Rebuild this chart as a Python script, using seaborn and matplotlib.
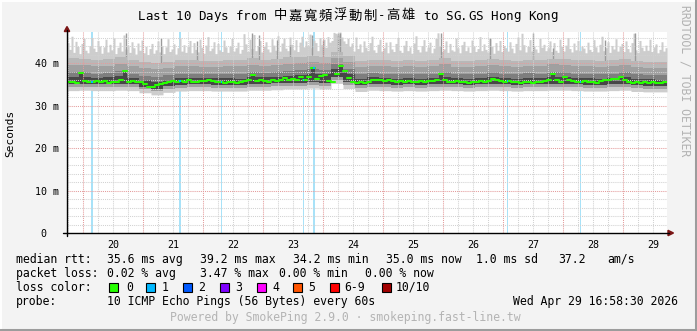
import numpy as np
import pandas as pd
import matplotlib
matplotlib.use("Agg")
import matplotlib.pyplot as plt
import seaborn as sns
from matplotlib.patches import Rectangle, Polygon
from matplotlib.lines import Line2D

# ---------------- data ----------------
title = "Last 10 Days from 中嘉寬頻浮動制-高雄 to SG.GS Hong Kong"
# time axis in days relative to Apr 20 00:00
start_day = -16 / 60          # Apr 19 17:36
end_day = 584 / 60            # Apr 29 ~17:00
bin_days = 4 / 60             # 96 minute bins (150 bins)
coarse_days = 12 / 60         # 4.8 hour bins (50 bins)
max_days = 2 / 60             # 48 minute bins (300 bins)

day_labels = ["20", "21", "22", "23", "24", "25", "26", "27", "28", "29"]
y_ticks = [0, 10, 20, 30, 40]
y_labels = ["0  ", "10 m", "20 m", "30 m", "40 m"]

median_ms = [
    35.5, 35.6, 35.4, 37.6, 35.8, 35.5, 35.6, 35.7, 35.5, 35.8,
    35.4, 35.6, 35.5, 35.9, 38.2, 35.6, 35.8, 35.5, 35.6, 35.0,
    34.3, 34.4, 34.8, 35.1, 35.3, 35.5, 35.7, 35.6, 35.8, 35.6,
    35.9, 35.6, 35.5, 35.7, 35.8, 36.0, 35.8, 35.6, 35.5, 35.4,
    35.6, 35.5, 35.4, 35.6, 35.7, 35.9, 37.2, 35.8, 36.0, 35.7,
    35.6, 36.0, 35.8, 36.1, 36.4, 36.0, 36.3, 36.0, 36.6, 35.9,
    36.8, 38.8, 36.3, 36.9, 37.1, 35.8, 35.6, 37.4, 39.2, 38.1,
    36.4, 35.5, 35.4, 35.5, 35.4, 35.6, 36.0, 35.9, 36.1, 35.8,
    36.0, 35.7, 35.6, 35.8, 35.5, 35.7, 35.6, 35.5, 35.7, 35.6,
    35.8, 35.7, 36.0, 37.4, 35.9, 35.6, 35.5, 35.7, 35.5, 35.6,
    35.4, 35.6, 35.5, 35.7, 35.6, 35.8, 36.3, 35.9, 35.7, 35.6,
    35.8, 35.6, 35.5, 35.4, 35.6, 35.5, 35.4, 35.6, 35.5, 35.7,
    36.0, 37.3, 35.9, 35.6, 36.8, 35.9, 35.7, 35.6, 35.5, 35.7,
    35.5, 35.6, 35.4, 35.7, 35.9, 36.0, 36.2, 36.3, 36.6, 35.9,
    35.6, 35.4, 35.5, 35.3, 35.5, 35.4, 35.6, 35.4, 35.3, 35.5,
]
max_ms = [
    44.8, 43.2, 46.3, 42.5, 45.1, 43.9, 42.2, 44.6, 45.8, 43.0, 42.4, 44.1, 46.0, 43.5, 42.7, 45.3, 44.0, 42.3, 43.8, 45.6,
    42.6, 44.4, 43.1, 45.9, 42.2, 43.7, 44.9, 42.8, 46.6, 43.3, 44.2, 42.5, 45.0, 43.6, 42.1, 44.7, 43.0, 45.4, 42.4, 43.9,
    42.0, 43.4, 44.6, 42.3, 43.1, 45.2, 42.6, 44.0, 42.2, 43.8, 45.7, 42.7, 43.3, 44.5, 42.1, 43.6, 46.0, 42.8, 44.3, 42.5,
    43.9, 45.3, 42.4, 44.8, 43.2, 42.6, 45.6, 43.7, 42.3, 44.2, 46.2, 42.9, 43.5, 45.0, 42.2, 44.6, 43.1, 42.7, 45.4, 43.8,
    42.5, 44.0, 45.8, 42.8, 43.6, 44.9, 42.3, 43.2, 46.9, 44.5, 42.7, 45.6, 43.4, 46.7, 42.9, 44.1, 45.3, 42.6, 43.9, 45.0,
    43.3, 42.6, 45.7, 44.2, 43.0, 46.4, 42.8, 44.7, 45.9, 43.5, 42.9, 46.1, 44.4, 43.1, 45.5, 42.7, 44.9, 46.3, 43.8, 45.2,
    44.1, 46.8, 43.6, 45.4, 44.8, 42.9, 46.0, 44.3, 45.6, 43.7, 46.2, 44.9, 45.3, 47.2, 47.0, 46.6, 47.3, 46.1, 45.2, 44.6,
    45.8, 43.9, 44.7, 42.8, 46.1, 43.4, 44.5, 42.6, 45.2, 43.7, 42.9, 44.8, 46.3, 43.1, 42.5, 44.4, 45.6, 42.8, 43.6, 44.9,
    42.4, 45.0, 43.3, 42.7, 44.6, 46.0, 43.0, 42.5, 44.2, 45.3, 42.9, 43.8, 42.3, 44.7, 46.4, 43.2, 42.6, 44.1, 45.5, 42.8,
    43.7, 44.9, 42.4, 43.5, 45.8, 47.1, 44.0, 42.7, 43.3, 45.2, 42.5, 44.6, 43.1, 42.8, 45.9, 43.6, 42.4, 44.3, 45.1, 42.9,
    43.8, 42.5, 45.4, 44.0, 42.7, 43.4, 46.2, 42.9, 44.5, 43.2, 42.6, 45.7, 43.9, 42.3, 44.8, 43.0, 45.3, 42.7, 44.1, 43.6,
    42.8, 45.0, 43.5, 42.4, 44.6, 46.1, 43.1, 47.0, 44.3, 42.6, 43.9, 45.5, 42.8, 44.0, 43.3, 42.5, 45.8, 43.7, 44.4, 42.9,
    43.6, 45.2, 42.7, 44.8, 43.0, 42.5, 45.6, 43.9, 42.8, 44.2, 46.0, 43.4, 42.6, 44.7, 43.1, 45.3, 42.9, 44.0, 43.5, 42.4,
    44.9, 43.2, 42.7, 45.5, 43.8, 42.6, 44.4, 46.3, 42.9, 43.6, 45.0, 42.5, 44.1, 43.3, 45.7, 42.8, 43.9, 44.6, 42.7, 45.2,
    43.4, 42.6, 44.8, 47.0, 43.1, 42.5, 45.3, 43.7, 42.9, 44.2, 43.0, 45.6, 42.7, 43.8, 44.5, 42.4, 43.2, 45.0, 42.8, 43.6,
]
# ping quantiles on the coarse (50 bin) grid
p8_ms = [
    41.2, 41.0, 40.7, 40.9, 41.3, 40.6, 40.2, 39.9, 40.3, 40.6,
    40.8, 40.5, 40.4, 40.7, 40.6, 41.1, 40.8, 40.9, 41.3, 41.4,
    41.6, 41.5, 42.6, 41.6, 40.5, 40.8, 40.6, 40.4, 40.7, 40.5,
    40.6, 41.2, 40.5, 40.4, 40.6, 40.9, 40.7, 40.5, 40.8, 40.6,
    41.0, 40.9, 40.7, 40.6, 40.5, 40.8, 40.9, 40.4, 40.3, 40.2,
]
p7_ms = [
    39.6, 39.6, 39.3, 39.4, 39.7, 39.2, 38.8, 38.5, 38.9, 39.2,
    39.3, 39.1, 39.0, 39.2, 39.2, 39.6, 39.4, 39.5, 39.8, 39.9,
    40.2, 40.0, 41.2, 40.2, 39.1, 39.4, 39.2, 39.0, 39.2, 39.1,
    39.2, 39.8, 39.1, 39.0, 39.2, 39.5, 39.3, 39.1, 39.4, 39.2,
    39.7, 39.5, 39.3, 39.2, 39.1, 39.3, 39.5, 39.0, 38.9, 38.8,
]
p6_ms = [
    37.8, 38.0, 37.5, 37.6, 38.2, 37.4, 37.0, 36.6, 37.1, 37.4,
    37.5, 37.4, 37.3, 37.4, 37.4, 37.9, 37.7, 37.8, 38.1, 38.3,
    38.6, 38.4, 39.8, 38.6, 37.3, 37.6, 37.4, 37.3, 37.4, 37.3,
    37.4, 38.0, 37.4, 37.3, 37.5, 37.8, 37.5, 37.3, 37.6, 37.4,
    38.0, 37.8, 37.5, 37.4, 37.4, 37.5, 37.8, 37.3, 37.2, 37.1,
]
p5_ms = [
    36.6, 36.8, 36.5, 36.6, 36.9, 36.5, 36.0, 35.5, 36.1, 36.4,
    36.5, 36.4, 36.4, 36.4, 36.3, 36.7, 36.6, 36.7, 37.0, 37.1,
    37.4, 37.3, 38.6, 37.3, 36.3, 36.6, 36.4, 36.3, 36.4, 36.3,
    36.4, 36.8, 36.4, 36.3, 36.5, 36.7, 36.5, 36.3, 36.5, 36.4,
    36.8, 36.7, 36.4, 36.4, 36.3, 36.5, 36.8, 36.3, 36.2, 36.1,
]
p4_ms = [
    35.0, 35.1, 35.0, 35.0, 35.1, 35.0, 34.4, 33.9, 34.6, 34.9,
    35.0, 35.0, 34.9, 34.9, 34.9, 35.1, 35.1, 35.2, 35.4, 35.4,
    35.6, 35.4, 36.6, 35.5, 34.8, 35.1, 35.0, 34.9, 35.0, 34.9,
    35.0, 35.1, 35.0, 34.9, 35.0, 35.1, 35.0, 34.9, 35.0, 35.0,
    35.1, 35.1, 35.0, 34.9, 34.9, 35.0, 35.1, 34.8, 34.7, 34.7,
]
p2_ms = [
    34.3, 34.4, 34.3, 34.3, 34.4, 34.3, 33.8, 33.3, 33.9, 34.2,
    34.3, 34.3, 34.2, 34.2, 34.2, 34.4, 34.4, 34.5, 34.7, 34.7,
    34.9, 34.7, 35.9, 34.8, 34.1, 34.4, 34.3, 34.2, 34.3, 34.2,
    34.3, 34.4, 34.3, 34.2, 34.3, 34.4, 34.3, 34.2, 34.3, 34.3,
    34.4, 34.4, 34.3, 34.2, 34.2, 34.3, 34.4, 34.1, 34.0, 34.0,
]
p0_ms = [
    33.5, 33.6, 33.5, 33.5, 33.6, 33.5, 33.0, 32.5, 33.1, 33.4,
    33.5, 33.5, 33.4, 33.4, 33.4, 33.6, 33.6, 33.7, 33.9, 33.9,
    34.1, 33.9, 35.2, 34.0, 33.3, 33.6, 33.5, 33.4, 33.5, 33.4,
    33.5, 33.6, 33.5, 33.4, 33.5, 33.6, 33.5, 33.4, 33.5, 33.5,
    33.6, 33.6, 33.5, 33.4, 33.4, 33.5, 33.6, 33.3, 33.2, 33.2,
]
# single-sample outlier spikes (day, ms)
spike_day = [0.717, 1.30, 1.90, 2.817, 2.933, 3.233, 3.45, 3.817, 4.0,
             4.25, 4.283, 5.967, 6.783, 7.5, 7.833, 8.7, 9.2]
spike_top = [47.0, 45.9, 45.2, 47.0, 46.6, 45.5, 44.3, 46.6, 45.5,
             47.0, 47.0, 47.0, 46.0, 47.0, 43.5, 45.5, 47.0]
# packet loss events (day, duration in minutes) - all 1/10 lost
loss_day = [0.133, 1.600, 2.300, 3.667, 3.833, 7.067, 8.283]
loss_minutes = [48, 48, 24, 24, 48, 24, 24]

rtt_stats = ["35.6 ms avg", "39.2 ms max", "34.2 ms min", "35.0 ms now",
             "1.0 ms sd", "37.2", "am/s"]
loss_stats = ["0.02 % avg", "3.47 % max", "0.00 % min", "0.00 % now"]
loss_names = ["0", "1", "2", "3", "4", "5", "6-9", "10/10"]
loss_colors = ["#26ff00", "#00b8ff", "#0059ff", "#7e00ff", "#ff00ff",
               "#ff5500", "#ff0000", "#a10000"]
probe_text = "10 ICMP Echo Pings (56 Bytes) every 60s"
stamp_text = "Wed Apr 29 16:58:30 2026"
footer = "Powered by SmokePing 2.9.0 · smokeping.fast-line.tw"

# ---------------- figure ----------------
W, H = 697, 331
sns.set_theme(style="white")
plt.rcParams["font.family"] = ["DejaVu Sans Mono", "Noto Sans CJK TC"]

BG = "#f3f3f3"
fig = plt.figure(figsize=(W / 100, H / 100), dpi=100, facecolor=BG)


def fx(px):
    return px / W


def fy(py):
    return 1 - py / H


ax = fig.add_axes([fx(67), fy(233), fx(667) - fx(67), fy(32) - fy(233)])
ax.set_facecolor("white")

med = np.array(median_ms)
n = len(med)
edges = start_day + bin_days * np.arange(n + 1)
nc = len(p8_ms)
cedges = start_day + coarse_days * np.arange(nc + 1)
nm = len(max_ms)
medges = start_day + max_days * np.arange(nm + 1)
rep = n // nc


def ext(a):
    a = np.asarray(a, dtype=float)
    return np.append(a, a[-1])


def fine(a, k=rep):
    return np.repeat(np.asarray(a, dtype=float), k)


# loss columns (behind smoke)
for d, m in zip(loss_day, loss_minutes):
    ax.axvspan(d, d + m / 1440, color="#a8e2f8", lw=0, zorder=1)

# smoke
ax.fill_between(medges, ext(fine(p0_ms, nm // nc)), ext(max_ms), step="post",
                color="#cdcdcd", lw=0, zorder=2)
ax.vlines(spike_day, 40.0, spike_top, color="#9a9a9a", lw=1.0, zorder=2.2)
ax.fill_between(cedges, ext(p2_ms), ext(p8_ms), step="post",
                color="#b8b8b8", lw=0, zorder=2.4)
ax.fill_between(cedges, ext(p2_ms), ext(p7_ms), step="post",
                color="#a0a0a0", lw=0, zorder=2.5)
ax.fill_between(cedges, ext(p4_ms), ext(p6_ms), step="post",
                color="#7e7e7e", lw=0, zorder=2.6)
top_e = np.maximum(fine(p5_ms), med)
ax.fill_between(edges, ext(fine(p4_ms)), ext(top_e), step="post",
                color="#474747", lw=0, zorder=2.7)

# grid (dotted)
dot = (0, (1, 1))
for d in np.arange(-0.25, 9.76, 0.25):
    if abs(d - round(d)) > 1e-6:
        ax.axvline(d, color="#d2d2d2", lw=0.75, ls=dot, zorder=3)
for v in range(2, 48, 2):
    if v % 10:
        ax.axhline(v, color="#d2d2d2", lw=0.75, ls=dot, zorder=3)
for d in range(0, 10):
    ax.axvline(d, color="#e49c9c", lw=0.75, ls=dot, zorder=3.1)
for v in (10, 20, 30, 40):
    ax.axhline(v, color="#e49c9c", lw=0.75, ls=dot, zorder=3.1)

# median line: one horizontal segment per bin
idx = np.arange(n)
seg = pd.DataFrame({
    "t": np.concatenate([edges[:-1], edges[1:]]),
    "ms": np.concatenate([med, med]),
    "bin": np.concatenate([idx, idx]),
})
sns.lineplot(data=seg, x="t", y="ms", units="bin", estimator=None,
             color=loss_colors[0], linewidth=1.5, ax=ax, legend=False,
             zorder=6)
for d, m in zip(loss_day, loss_minutes):
    k = int((d - start_day) / bin_days)
    ax.hlines(med[k], d, d + m / 1440, color=loss_colors[1], lw=1.5, zorder=7)

ax.set_xlim(start_day, end_day)
ax.set_ylim(0, 201 / 4.25)
ax.set_xlabel("")
ax.set_ylabel("")
ax.set_xticks(np.arange(len(day_labels)) + 0.5, labels=day_labels)
ax.set_yticks(y_ticks, labels=y_labels)
ax.tick_params(axis="both", length=0, labelsize=7.2, colors="black")
ax.tick_params(axis="x", pad=5)
ax.tick_params(axis="y", pad=6)
for s in ("top", "right", "left", "bottom"):
    ax.spines[s].set_visible(False)

# axes lines + arrows
fig.add_artist(Line2D([fx(67), fx(67)], [fy(236), fy(30)], color="black",
                      lw=1.0, transform=fig.transFigure))
fig.add_artist(Line2D([fx(63), fx(669)], [fy(233), fy(233)], color="black",
                      lw=1.0, transform=fig.transFigure))
fig.add_artist(Polygon([(fx(64.3), fy(31.5)), (fx(69.7), fy(31.5)),
                        (fx(67), fy(26.5))], closed=True, color="#7a1414",
                       transform=fig.transFigure))
fig.add_artist(Polygon([(fx(668), fy(230.3)), (fx(668), fy(235.7)),
                        (fx(673.5), fy(233))], closed=True, color="#7a1414",
                       transform=fig.transFigure))

# title: monospace cells, CJK characters take two cells
cell = 7.5
tx = 138
for ch in title:
    wide = ord(ch) >= 0x2E80
    w = 2 * cell if wide else cell
    fig.text(fx(tx + w / 2), fy(19.5), ch, ha="center", va="baseline",
             fontsize=9.6 if wide else 9, color="black",
             family=["Noto Sans CJK TC"] if wide else ["DejaVu Sans Mono"])
    tx += w

fig.text(fx(10), fy(133), "Seconds", rotation=90, ha="center", va="center",
         fontsize=8, color="black")
fig.text(fx(685), fy(5), "RRDTOOL / TOBI OETIKER", rotation=270,
         ha="center", va="top", fontsize=8.3, color="#b2b2b2")

# legend
LF = 8.3


def put(x, base, s, color="black"):
    fig.text(fx(x), fy(base), s, ha="left", va="baseline", fontsize=LF,
             color=color)


put(16, 263, "median rtt:")
for x, s in zip([107, 200, 293, 386, 476, 558, 607], rtt_stats):
    put(x, 263, s)
put(16, 277, "packet loss:")
for x, s in zip([107, 200, 279, 365], loss_stats):
    put(x, 277, s)
put(16, 291, "loss color:")
box_x = [109, 146, 183, 220, 257, 293, 330, 382]
lab_x = [126, 162, 198, 235, 272, 308, 344, 396]
for bx, lx, c, s in zip(box_x, lab_x, loss_colors, loss_names):
    fig.add_artist(Rectangle((fx(bx), fy(292)), 9 / W, 9 / H,
                             transform=fig.transFigure, facecolor=c,
                             edgecolor="black", lw=0.8))
    put(lx, 291, s)
put(16, 305, "probe:")
put(107, 305, probe_text)
put(513, 305, stamp_text)
put(170, 321, footer, color="#b4b4b4")

# 3D frame
fig.add_artist(Line2D([fx(0.5), fx(0.5)], [fy(0), fy(331)], color="#ffffff",
                      lw=1.4, transform=fig.transFigure))
fig.add_artist(Line2D([fx(0), fx(697)], [fy(0.5), fy(0.5)], color="#ffffff",
                      lw=1.4, transform=fig.transFigure))
fig.add_artist(Line2D([fx(695.5), fx(695.5)], [fy(0), fy(331)],
                      color="#9c9c9c", lw=2.2, transform=fig.transFigure))
fig.add_artist(Line2D([fx(0), fx(697)], [fy(329.5), fy(329.5)],
                      color="#9c9c9c", lw=2.2, transform=fig.transFigure))

fig.savefig("out.png", dpi=100, facecolor=BG)
